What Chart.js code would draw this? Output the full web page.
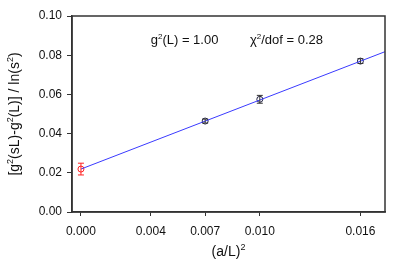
<!DOCTYPE html>
<html>
<head>
<meta charset="utf-8">
<script src="https://cdn.jsdelivr.net/npm/chart.js@4"></script>
<style>
  html, body { margin: 0; padding: 0; background: #fff; }
  #wrap { width: 409px; height: 273px; }
</style>
</head>
<body>
<div id="wrap"><canvas id="myChart" width="409" height="273"></canvas></div>
<script>
    // data
    const xValues = [0.0000, 0.006944, 0.0100, 0.015625];
    const yValues = [0.0219, 0.0464, 0.0575, 0.0770];
    const yErrors = [0.0030, 0.0010, 0.0020, 0.0012];
    const fitX = [0.0000, 0.0170];
    const fitY = [0.0219, 0.0818];
    const xTickValues = [0.0000, 0.003906, 0.006944, 0.0100, 0.015625];
    const xTickLabels = ['0.000', '0.004', '0.007', '0.010', '0.016'];
    const annotations = [
      { x: 0.0039, y: 0.0857, parts: [['g', 0], ['2', 1], ['(L) = 1.00', 0]] },
      { x: 0.00945, y: 0.0857, parts: [['\u03C7', 0], ['2', 1], ['/dof = 0.28', 0]] }
    ];

    const FONT = '"Liberation Sans", Arial, sans-serif';
    const axisColor = '#333333';

    // draws text with superscript pieces, returns width
    function richText(ctx, parts, x, y, size, measureOnly) {
      let w = 0;
      parts.forEach(([t, sup]) => {
        const s = sup ? Math.round(size * 0.65) : size;
        ctx.font = `${s}px ${FONT}`;
        if (!measureOnly) ctx.fillText(t, x + w, sup ? y - size * 0.42 : y);
        w += ctx.measureText(t).width;
      });
      return w;
    }

    // error bars + frame + titles
    const extras = {
      id: 'extras',
      afterDatasetsDraw(chart) {
        const { ctx, chartArea: { top, bottom, left, right }, scales: { x, y } } = chart;
        ctx.save();
        // error bars
        xValues.forEach((xv, i) => {
          const px = x.getPixelForValue(xv);
          const p1 = y.getPixelForValue(yValues[i] - yErrors[i]);
          const p2 = y.getPixelForValue(yValues[i] + yErrors[i]);
          ctx.strokeStyle = i === 0 ? '#ff2020' : '#333333';
          ctx.lineWidth = 1;
          ctx.beginPath();
          ctx.moveTo(px, p1); ctx.lineTo(px, p2);
          ctx.moveTo(px - 3, p1); ctx.lineTo(px + 3, p1);
          ctx.moveTo(px - 3, p2); ctx.lineTo(px + 3, p2);
          ctx.stroke();
        });
        // frame
        ctx.strokeStyle = axisColor;
        ctx.lineWidth = 1.5;
        ctx.strokeRect(left, top, right - left, bottom - top);

        // annotations
        ctx.fillStyle = '#111';
        ctx.textBaseline = 'alphabetic';
        ctx.textAlign = 'left';
        annotations.forEach(a => {
          richText(ctx, a.parts, x.getPixelForValue(a.x), y.getPixelForValue(a.y), 13);
        });

        // x title
        const xParts = [['(a/L)', 0], ['2', 1]];
        const xw = richText(ctx, xParts, 0, 0, 14, true);
        richText(ctx, xParts, (left + right) / 2 - xw / 2, 256, 14);

        // y title
        const yParts = [['[g', 0], ['2', 1], ['(sL)-g', 0], ['2', 1], ['(L)] / ln(s', 0], ['2', 1], [')', 0]];
        const yw = richText(ctx, yParts, 0, 0, 14, true);
        ctx.translate(19, (top + bottom) / 2);
        ctx.rotate(-Math.PI / 2);
        richText(ctx, yParts, -yw / 2, 0, 14);
        ctx.restore();
      }
    };

    const config = {
      type: 'scatter',
      data: {
        datasets: [{
          type: 'line',
          data: fitX.map((v, i) => ({ x: v, y: fitY[i] })),
          borderColor: '#3a3aff',
          borderWidth: 1,
          pointRadius: 0,
          fill: false
        }, {
          data: xValues.map((v, i) => ({ x: v, y: yValues[i] })),
          pointStyle: 'circle',
          pointRadius: 3,
          pointBorderWidth: 1,
          pointBackgroundColor: 'rgba(255,255,255,0)',
          pointBorderColor: ['#ff2020', '#222244', '#222244', '#222244']
        }]
      },
      options: {
        responsive: false,
        animation: false,
        layout: { padding: { top: 16, right: 24, left: 0, bottom: 0 } },
        plugins: { legend: { display: false }, tooltip: { enabled: false } },
        scales: {
          x: {
            type: 'linear',
            min: -0.0005,
            max: 0.017,
            afterBuildTicks(scale) {
              scale.ticks = xTickValues.map(v => ({ value: v }));
            },
            afterFit(scale) { scale.height = 61; },
            ticks: {
              callback(v, i) { return xTickLabels[i]; },
              color: '#111',
              font: { size: 12, family: FONT },
              padding: 8,
              maxRotation: 0,
              autoSkip: false
            },
            grid: { drawOnChartArea: false, tickLength: 4, color: axisColor },
            border: { color: axisColor, width: 1.5 }
          },
          y: {
            min: 0,
            max: 0.1,
            afterFit(scale) { scale.width = 72; },
            ticks: {
              stepSize: 0.02,
              callback(v) { return v.toFixed(2); },
              color: '#111',
              font: { size: 12, family: FONT },
              padding: 5
            },
            grid: { drawOnChartArea: false, tickLength: 5, color: axisColor },
            border: { color: axisColor, width: 1.5 }
          }
        }
      },
      plugins: [extras]
    };

    const myChart = new Chart(document.getElementById('myChart'), config);
</script>
</body>
</html>
